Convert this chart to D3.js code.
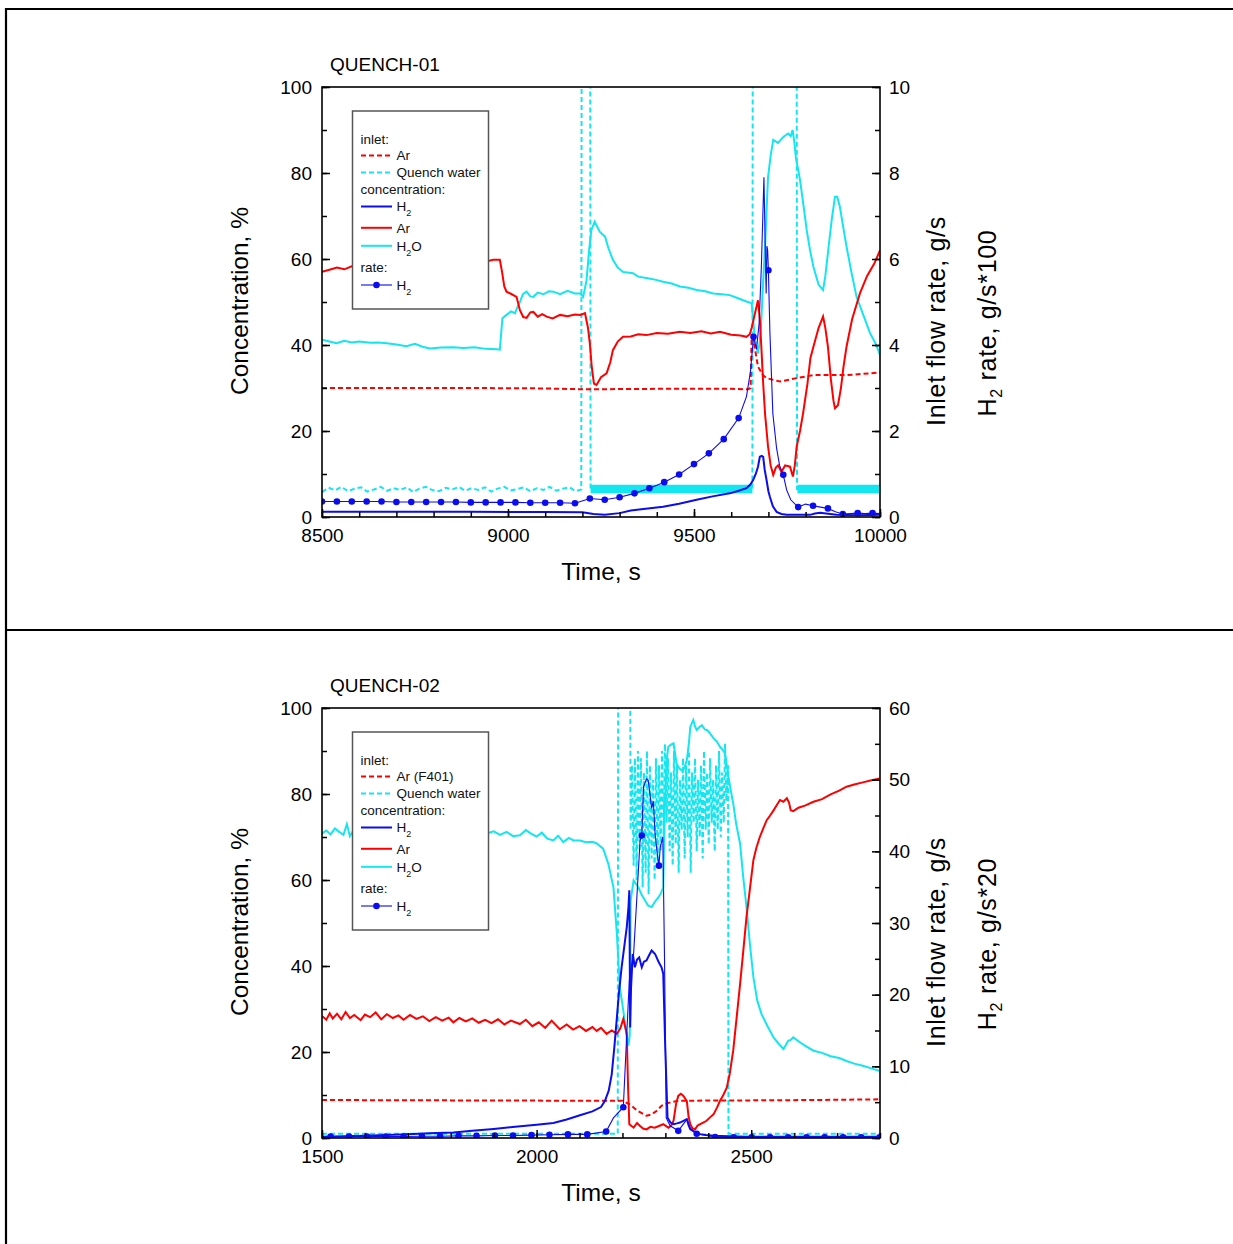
<!DOCTYPE html>
<html>
<head>
<meta charset="utf-8">
<script src="https://cdn.jsdelivr.net/npm/d3@7"></script>
<style>
body { margin: 0; background: #fff; }
svg { display: block; font-family: "Liberation Sans", Arial, sans-serif; }
</style>
</head>
<body>
<svg id="chart" width="1233" height="1244"></svg>
<script>
'use strict';

// ---------- DATA ----------
// shared
var concTicks = [0, 20, 40, 60, 80, 100];
var legendLabels = ['inlet:', 'Ar', 'Quench water', 'concentration:', 'H2', 'Ar', 'H2O', 'rate:', 'H2'];

// QUENCH-01  (time s, value)
var q1XTicks = [8500, 9000, 9500, 10000];
var q1RightTicks = [0, 2, 4, 6, 8, 10];

var q1ArConc = [[8500,57],[8520,57.5],[8540,58],[8560,57.6],[8580,58.3],[8600,58.5],[8650,58.7],[8700,59],[8750,58.8],[8800,59.2],[8850,59.3],[8900,59.6],[8942,59.4],[8960,59.8],[8978,59.8],[8984,57],[8990,53.6],[8996,52.4],[9010,51.8],[9023,51.2],[9032,48.1],[9041,46.5],[9050,46.3],[9060,47.6],[9068,47.7],[9080,46.6],[9092,47.2],[9104,46.6],[9120,46.2],[9140,47],[9160,46.7],[9180,47.1],[9195,47],[9207,47.4],[9215,44],[9220,40.4],[9225,35],[9231,31],[9238,30.7],[9250,32.5],[9265,33.4],[9275,36],[9282,38.8],[9295,40.8],[9309,41.9],[9330,42],[9350,42.5],[9372,42.3],[9400,42.8],[9430,42.6],[9462,43.1],[9490,42.8],[9520,43.2],[9545,42.7],[9570,43.1],[9600,42.4],[9625,42.2],[9641,41.9],[9650,42.5],[9655,44],[9663,47],[9672,50.4],[9677,46],[9681,39.6],[9686,31],[9691,24],[9699,16.4],[9706,12],[9713,9.8],[9720,11.5],[9726,12],[9735,10.5],[9745,12],[9758,11.7],[9766,9.4],[9771,12],[9776,16.4],[9785,20],[9793,24],[9805,31],[9813,37],[9821,39.6],[9835,44],[9847,46.6],[9853,44],[9860,39.6],[9868,32],[9875,27],[9879,25.3],[9887,26],[9895,30],[9902,35],[9910,39.6],[9925,46],[9946,52],[9965,56],[9985,59],[10000,62]];

var q1H2oConc = [[8500,41.2],[8520,40.8],[8539,40.4],[8560,41],[8580,40.6],[8600,40.8],[8630,40.5],[8650,40.6],[8674,40.4],[8700,40.1],[8727,39.7],[8750,40.3],[8770,39.6],[8790,39.2],[8820,39.4],[8853,39.5],[8880,39.3],[8910,39.5],[8940,39.1],[8970,39],[8978,38.9],[8985,46.2],[8996,47],[9008,47.8],[9019,47.4],[9026,49],[9032,50],[9040,51.8],[9050,52.4],[9060,51.3],[9068,51.2],[9080,52.2],[9095,51.8],[9110,52.5],[9122,52.4],[9140,51.8],[9160,52.6],[9180,52],[9194,52],[9202,51.2],[9211,55],[9218,62],[9224,66.7],[9233,68.7],[9240,67.5],[9247,66.3],[9261,65.2],[9270,62.5],[9282,59.8],[9295,58],[9309,57],[9336,56.7],[9350,55.9],[9372,55.6],[9395,55.2],[9417,54.7],[9440,54.3],[9462,53.6],[9485,53.3],[9507,52.8],[9530,52.5],[9552,52],[9575,51.8],[9596,51.6],[9615,51],[9632,50.4],[9645,50],[9655,49.7],[9660,45],[9664,41.2],[9672,38],[9677,41],[9681,45.8],[9686,55],[9691,62.9],[9695,71],[9699,79],[9706,84],[9713,87.7],[9726,87],[9740,88.4],[9753,89.2],[9760,88.6],[9765,90],[9770,87],[9774,83.5],[9785,78.4],[9795,72],[9803,66.7],[9812,62],[9821,58.2],[9835,54],[9847,52.8],[9853,56],[9860,61.4],[9870,69],[9879,74.5],[9885,74.5],[9892,72.2],[9900,68],[9910,62.9],[9923,57],[9937,51.2],[9955,47],[9973,42.8],[9990,40],[10000,37.7]];

var q1H2Conc = [[8500,1.2],[8700,1.2],[8900,1.2],[9100,1.15],[9200,1.1],[9230,0.7],[9260,0.5],[9300,0.9],[9330,1.5],[9370,1.9],[9417,2.4],[9460,3.1],[9507,4],[9550,4.8],[9596,5.5],[9620,6.1],[9641,6.7],[9652,7.6],[9659,8.6],[9666,10],[9672,11.7],[9677,14],[9682,14.2],[9686,14],[9690,11],[9695,8.6],[9700,6],[9704,4.7],[9712,2.5],[9722,1.2],[9735,0.7],[9749,0.5],[9780,0.5],[9812,0.5],[9825,0.8],[9839,1],[9855,0.8],[9883,0.5],[9940,0.4],[10000,0.5]];

// third field 1 = plotted symbol
var q1H2Rate = [[8500,0.36,1],[8540,0.36,1],[8580,0.36,1],[8620,0.36,1],[8660,0.36,1],[8700,0.35,1],[8740,0.35,1],[8780,0.35,1],[8820,0.35,1],[8860,0.35,1],[8900,0.34,1],[8940,0.34,1],[8980,0.34,1],[9020,0.34,1],[9060,0.33,1],[9100,0.33,1],[9140,0.33,1],[9180,0.32,1],[9220,0.43,1],[9260,0.40,1],[9300,0.46,1],[9340,0.55,1],[9380,0.67,1],[9420,0.81,1],[9460,0.99,1],[9500,1.23,1],[9540,1.48,1],[9580,1.81,1],[9620,2.30,1],[9641,2.8],[9652,3.4],[9660,4.19,1],[9668,3.9],[9675,4.5],[9681,5.8],[9685,7.0],[9688,7.9],[9691,6.5],[9694,5.2],[9696,6.3],[9698,6.2],[9700,5.74,1],[9704,4.3],[9712,2.4],[9722,1.6],[9730,1.2],[9740,0.98,1],[9749,0.63],[9760,0.4],[9780,0.23,1],[9800,0.3],[9820,0.26,1],[9840,0.23],[9860,0.20,1],[9880,0.12],[9900,0.07,1],[9920,0.08],[9940,0.09,1],[9960,0.08],[9980,0.09,1],[10000,0.08]];

var q1ArInlet = [[8500,3.0],[8700,3.0],[8900,3.0],[9100,2.99],[9200,2.97],[9400,2.98],[9600,2.98],[9645,2.97],[9652,3.0],[9655,4.2],[9662,4.0],[9672,3.5],[9685,3.3],[9695,3.23],[9731,3.15],[9776,3.23],[9821,3.3],[9910,3.3],[10000,3.36]];

var q1Quench = [[8500,0.58],[8518,0.68],[8535,0.62],[8552,0.70],[8570,0.60],[8588,0.66],[8605,0.69],[8622,0.59],[8640,0.64],[8658,0.70],[8675,0.61],[8692,0.67],[8710,0.63],[8728,0.69],[8745,0.58],[8762,0.66],[8780,0.70],[8798,0.62],[8815,0.60],[8832,0.68],[8850,0.64],[8868,0.70],[8885,0.61],[8902,0.67],[8920,0.63],[8938,0.69],[8955,0.59],[8972,0.66],[8990,0.70],[9008,0.62],[9025,0.65],[9042,0.69],[9060,0.60],[9078,0.67],[9095,0.63],[9112,0.70],[9130,0.61],[9148,0.66],[9165,0.69],[9182,0.60],[9197,0.64],[9198,12],[9221,12],[9222,0.65],[9657,0.65],[9658,12],[9776,12],[9777,0.65],[10000,0.65]];
// noisy stretches: [from, to, low, high]
var q1QuenchBand = [[9222,9657,0.55,0.75],[9778,10000,0.55,0.75]];

// QUENCH-02
var q2XTicks = [1500, 2000, 2500];
var q2RightTicks = [0, 10, 20, 30, 40, 50, 60];

var q2H2oConc = [[1500,70.8],[1510,71.5],[1520,70.6],[1530,72],[1540,71.2],[1550,70.5],[1558,73],[1565,70.2],[1575,71.8],[1590,71],[1600,71.5],[1612,70.4],[1625,71.8],[1640,70.9],[1655,71.6],[1670,70.8],[1685,72.2],[1700,71],[1715,71.4],[1730,70.5],[1745,71.7],[1760,70.8],[1775,71.3],[1790,70.6],[1805,71.5],[1820,70.7],[1835,71.2],[1850,70.3],[1865,71.4],[1884,70.8],[1900,71.3],[1915,70.5],[1930,71.2],[1945,70.2],[1961,70.4],[1975,71.6],[1987,70.8],[2000,70.1],[2012,71],[2025,69.6],[2039,69.2],[2050,70.3],[2062,68.8],[2075,69.8],[2086,69.2],[2101,69.2],[2115,68.8],[2130,68.9],[2140,68.5],[2155,67.3],[2167,63.8],[2179,58.3],[2187,47.5],[2194,35],[2202,29.6],[2208,25],[2214,21.5],[2217,24],[2219,55.2],[2226,59.9],[2237,58.3],[2245,56.5],[2253,55.2],[2260,54],[2268,53.7],[2276,55],[2284,56],[2290,57],[2295,58.3],[2299,78.5],[2303,88],[2307,91],[2313,91.5],[2319,91.8],[2326,87.1],[2332,86],[2338,85.5],[2344,86],[2350,87.9],[2355,92],[2358,95.6],[2365,97.2],[2369,95.8],[2373,94.9],[2379,95.5],[2385,96],[2392,95],[2398,94.8],[2404,94.1],[2412,93],[2420,92.2],[2427,91],[2434,90.2],[2439,89.4],[2447,84],[2452,81],[2458,77.8],[2465,73],[2474,68.5],[2481,61],[2489,53.7],[2497,45],[2505,37.4],[2514,32],[2524,28.8],[2538,26],[2552,23.4],[2563,22],[2575,20.7],[2580,21.5],[2586,22.6],[2592,22.8],[2598,23.4],[2610,22.5],[2625,21.5],[2645,20.3],[2665,19.8],[2685,19],[2705,18.6],[2722,17.9],[2740,17.3],[2760,16.8],[2780,16.2],[2800,15.6]];

var q2ArConc = [[1500,28.4],[1510,27.5],[1518,29],[1525,27.8],[1535,28.9],[1545,27.6],[1555,29.3],[1565,27.9],[1575,28.6],[1590,27.4],[1600,28.7],[1612,28.1],[1625,29.2],[1638,27.6],[1651,28.8],[1665,27.9],[1678,28.5],[1690,27.5],[1705,28.6],[1720,27.7],[1735,28.3],[1750,27.2],[1765,28.1],[1780,27.3],[1795,28],[1806,26.9],[1820,27.9],[1835,27.1],[1850,27.8],[1865,26.8],[1880,27.5],[1895,26.7],[1910,27.6],[1925,26.4],[1940,27.3],[1961,26.5],[1975,27.5],[1990,26],[2005,26.9],[2020,25.6],[2035,27.3],[2054,25.3],[2070,26.4],[2085,25.2],[2100,26],[2115,24.9],[2130,25.8],[2140,24.9],[2150,25.6],[2163,24.2],[2175,25],[2187,24.2],[2195,25.5],[2202,27.7],[2206,26],[2210,24.2],[2213,12],[2216,3.2],[2226,2.4],[2234,3.5],[2241,2.8],[2248,2.2],[2256,2],[2265,2.6],[2275,2.4],[2285,2.8],[2295,3.2],[2307,2.4],[2313,2.8],[2319,4],[2325,8],[2330,9.8],[2336,10.3],[2342,9.8],[2350,8.6],[2354,5],[2358,3.2],[2363,2.3],[2369,2],[2375,2.9],[2381,3.2],[2388,3.6],[2396,4],[2404,4.8],[2412,5.5],[2420,7],[2427,8.6],[2435,10],[2443,11.7],[2450,15],[2458,20.3],[2466,28],[2474,35.8],[2481,43],[2489,51.4],[2497,58],[2505,64.6],[2512,67.5],[2520,70],[2528,72],[2536,73.9],[2544,75],[2552,76.2],[2560,77.5],[2567,78.6],[2575,78.2],[2583,79],[2588,78],[2592,76.2],[2598,76],[2610,76.8],[2625,77.3],[2645,78.2],[2665,78.8],[2685,79.9],[2705,80.8],[2722,81.7],[2740,82.2],[2760,82.7],[2780,83.2],[2800,83.6]];

var q2H2Conc = [[1500,0.3],[1550,0.4],[1600,0.5],[1650,0.7],[1700,0.9],[1750,1.1],[1806,1.3],[1850,1.7],[1900,2.1],[1950,2.6],[2000,3.1],[2039,3.5],[2070,4.3],[2101,5.3],[2130,6.2],[2150,7.2],[2159,8.6],[2168,11],[2175,14.8],[2181,21],[2187,28],[2192,34],[2198,39.7],[2206,45.9],[2210,49],[2214,53.7],[2216,57.6],[2218,25.7],[2220,35],[2224,42.8],[2229,39.7],[2234,41.5],[2239,42],[2245,39.7],[2250,41],[2256,41.3],[2262,42.5],[2268,43.6],[2276,42.8],[2284,41],[2291,39.7],[2295,38.2],[2300,20],[2305,4.7],[2312,3.6],[2319,3.2],[2327,3.4],[2334,3.6],[2342,4],[2350,4.4],[2354,3],[2358,2],[2365,1.6],[2373,1.2],[2381,0.9],[2395,0.7],[2412,0.5],[2450,0.4],[2489,0.3],[2600,0.3],[2700,0.3],[2800,0.3]];

var q2H2Rate = [[1520,0.2,1],[1563,0.2,1],[1605,0.2,1],[1648,0.2,1],[1690,0.2,1],[1733,0.25,1],[1775,0.25,1],[1818,0.3,1],[1860,0.3,1],[1903,0.35,1],[1945,0.35,1],[1988,0.4,1],[2030,0.45,1],[2073,0.5,1],[2118,0.5,1],[2162,0.9,1],[2179,2.8],[2202,4.3,1],[2210,14.5],[2216,22],[2221,24],[2226,25.7],[2233,33],[2241,41.5],[2245,42.2,1],[2249,49],[2256,50.1],[2260,49.9],[2264,48],[2268,46],[2272,47],[2276,42.5],[2281,39.7],[2285,38,1],[2288,40.6],[2294,42],[2298,25],[2302,2.8],[2311,1.7],[2330,1.0,1],[2340,1.8],[2350,2.6],[2358,1.4],[2373,0.6,1],[2416,0.15,1],[2459,0.1,1],[2501,0.1,1],[2544,0.1,1],[2586,0.1,1],[2629,0.1,1],[2671,0.1,1],[2714,0.1,1],[2756,0.1,1],[2799,0.1,1]];

var q2ArInlet = [[1500,5.3],[1800,5.25],[2100,5.2],[2200,5.2],[2217,4.7],[2235,3.8],[2256,3.1],[2268,3.3],[2280,3.8],[2291,4.5],[2307,4.9],[2330,5.2],[2500,5.25],[2650,5.3],[2800,5.4]];

var q2Quench = [[1500,0.6],[2189,0.6],[2190,65],[2218,65],[2219,43],[2222,52],[2226,38],[2229,53],[2233,36],[2236,54],[2240,40],[2243,53],[2247,35],[2250,51],[2254,37],[2257,54],[2261,34],[2264,52],[2268,39],[2271,50],[2275,36],[2278,53],[2282,38],[2285,52],[2289,40],[2292,54],[2296,42],[2299,55],[2303,44],[2306,53],[2310,40],[2313,51],[2317,38],[2320,54],[2324,41],[2327,52],[2331,37],[2334,50],[2338,43],[2341,53],[2345,39],[2348,52],[2352,42],[2355,54],[2359,37],[2362,51],[2366,44],[2369,53],[2373,40],[2376,50],[2380,42],[2383,52],[2387,39],[2390,54],[2394,43],[2397,51],[2401,41],[2404,53],[2408,44],[2411,50],[2415,40],[2418,52],[2422,43],[2425,54],[2429,42],[2432,51],[2436,44],[2439,55],[2442,47],[2446,52],[2447,0.6],[2800,0.6]];
var q2QuenchBand = [];

// ---------- DRAWING ----------
var RED = '#ff0000', CYAN = '#14e6ef', BLUE = '#0c0cf0';
var FONT = '"Liberation Sans", Arial, sans-serif';

var svg = d3.select('#chart');
svg.append('rect').attr('width', 1233).attr('height', 1244).attr('fill', '#fff');

// page frame
var frame = svg.append('g').attr('stroke', '#000').attr('stroke-width', 2.2);
frame.append('line').attr('x1', 5).attr('x2', 1233).attr('y1', 9).attr('y2', 9);
frame.append('line').attr('x1', 6).attr('x2', 6).attr('y1', 8).attr('y2', 1244);
frame.append('line').attr('x1', 5).attr('x2', 1233).attr('y1', 630).attr('y2', 630);

function addSubText(sel, parts, subSize, subDy) {
    // parts: array of [text, isSub]
    parts.forEach(function(p, i) {
        var prevSub = i > 0 && parts[i - 1][1];
        var t = sel.append('tspan').text(p[0]);
        if (p[1]) {
            t.attr('font-size', subSize).attr('dy', subDy);
        } else if (prevSub) {
            t.attr('dy', -subDy);
        }
    });
}

function splitLabel(label) {
    // "H2" / "H2O" -> subscript digit
    if (label === 'H2') return [['H', false], ['2', true]];
    if (label === 'H2O') return [['H', false], ['2', true], ['O', false]];
    return [[label, false]];
}

function drawPanel(p) {
    var top = p.offsetY;
    var left = 322, right = 880, yTop = top + 87, yBot = top + 517;

    var x = d3.scaleLinear().domain(p.xDomain).range([left, right]);
    var yL = d3.scaleLinear().domain([0, 100]).range([yBot, yTop]);
    var yR = d3.scaleLinear().domain(p.rDomain).range([yBot, yTop]);

    var g = svg.append('g').attr('class', 'panel-' + p.id);

    g.append('clipPath').attr('id', 'clip-' + p.id)
        .append('rect')
        .attr('x', left).attr('y', yTop)
        .attr('width', right - left).attr('height', yBot - yTop);

    var plot = g.append('g').attr('clip-path', 'url(#clip-' + p.id + ')');

    var lineL = d3.line().x(function(d) { return x(d[0]); }).y(function(d) { return yL(d[1]); });
    var lineR = d3.line().x(function(d) { return x(d[0]); }).y(function(d) { return yR(d[1]); });

    // QUENCH WATER (inlet, right axis)
    plot.selectAll('rect.band').data(p.quenchBand).enter()
        .append('rect')
        .attr('class', 'band')
        .attr('x', function(d) { return x(d[0]); })
        .attr('y', function(d) { return yR(d[3]); })
        .attr('width', function(d) { return x(d[1]) - x(d[0]); })
        .attr('height', function(d) { return yR(d[2]) - yR(d[3]); })
        .attr('fill', CYAN);

    plot.append('path').datum(p.quench)
        .attr('d', lineR)
        .attr('fill', 'none').attr('stroke', CYAN)
        .attr('stroke-width', 2).attr('stroke-dasharray', '5,3');

    // CONCENTRATIONS
    plot.append('path').datum(p.h2oConc)
        .attr('d', lineL).attr('fill', 'none')
        .attr('stroke', CYAN).attr('stroke-width', 2);

    // Ar INLET
    plot.append('path').datum(p.arInlet)
        .attr('d', lineR).attr('fill', 'none')
        .attr('stroke', RED).attr('stroke-width', 2)
        .attr('stroke-dasharray', '5,3');

    plot.append('path').datum(p.arConc)
        .attr('d', lineL).attr('fill', 'none')
        .attr('stroke', RED).attr('stroke-width', 2);

    plot.append('path').datum(p.h2Conc)
        .attr('d', lineL).attr('fill', 'none')
        .attr('stroke', BLUE).attr('stroke-width', 2);

    // H2 RATE
    plot.append('path').datum(p.h2Rate)
        .attr('d', lineR).attr('fill', 'none')
        .attr('stroke', BLUE).attr('stroke-width', 1.1);

    plot.append('g').selectAll('circle')
        .data(p.h2Rate.filter(function(d) { return d[2]; }))
        .enter().append('circle')
        .attr('cx', function(d) { return x(d[0]); })
        .attr('cy', function(d) { return yR(d[1]); })
        .attr('r', 3.3)
        .attr('fill', BLUE);

    // AXES
    function styleAxis(sel) {
        sel.select('.domain').remove();
        sel.attr('font-family', FONT).attr('font-size', 19);
        sel.selectAll('line').attr('stroke', '#000').attr('stroke-width', 1.5);
        sel.selectAll('text').attr('fill', '#000');
    }

    var xMinor = d3.range(p.xDomain[0], p.xDomain[1] + 1, 100);
    g.append('g').attr('transform', 'translate(0,' + yBot + ')')
        .call(d3.axisBottom(x).tickValues(xMinor).tickSize(-5).tickFormat(''))
        .call(styleAxis);
    g.append('g').attr('transform', 'translate(0,' + yBot + ')')
        .call(d3.axisBottom(x).tickValues(p.xTicks).tickSize(-8).tickPadding(12).tickFormat(d3.format('d')))
        .call(styleAxis);

    g.append('g').attr('transform', 'translate(' + left + ',0)')
        .call(d3.axisLeft(yL).tickValues(d3.range(0, 101, 10)).tickSize(-5).tickFormat(''))
        .call(styleAxis);
    g.append('g').attr('transform', 'translate(' + left + ',0)')
        .call(d3.axisLeft(yL).tickValues(concTicks).tickSize(-8).tickPadding(10).tickFormat(d3.format('d')))
        .call(styleAxis);

    var rStep = (p.rTicks[1] - p.rTicks[0]) / 2;
    g.append('g').attr('transform', 'translate(' + right + ',0)')
        .call(d3.axisRight(yR).tickValues(d3.range(p.rDomain[0], p.rDomain[1] + rStep / 2, rStep)).tickSize(-5).tickFormat(''))
        .call(styleAxis);
    g.append('g').attr('transform', 'translate(' + right + ',0)')
        .call(d3.axisRight(yR).tickValues(p.rTicks).tickSize(-8).tickPadding(9).tickFormat(d3.format('d')))
        .call(styleAxis);

    // plot box
    g.append('rect')
        .attr('x', left).attr('y', yTop)
        .attr('width', right - left).attr('height', yBot - yTop)
        .attr('fill', 'none').attr('stroke', '#000').attr('stroke-width', 1.6);

    // TITLES
    g.append('text').attr('x', 330).attr('y', top + 71)
        .attr('font-family', FONT).attr('font-size', 19)
        .text(p.title);

    g.append('text').attr('x', 601).attr('y', top + 580)
        .attr('text-anchor', 'middle')
        .attr('font-family', FONT).attr('font-size', 24.5)
        .text('Time, s');

    g.append('text')
        .attr('transform', 'translate(248,' + (top + 301) + ') rotate(-90)')
        .attr('text-anchor', 'middle')
        .attr('font-family', FONT).attr('font-size', 24.5)
        .text('Concentration, %');

    g.append('text')
        .attr('transform', 'translate(945,' + (top + 321) + ') rotate(-90)')
        .attr('text-anchor', 'middle')
        .attr('font-family', FONT).attr('font-size', 25)
        .attr('letter-spacing', 0.7)
        .text('Inlet flow rate, g/s');

    var rateTitle = g.append('text')
        .attr('transform', 'translate(996,' + (top + 323) + ') rotate(-90)')
        .attr('text-anchor', 'middle')
        .attr('font-family', FONT).attr('font-size', 25)
        .attr('letter-spacing', 0.7);
    addSubText(rateTitle, [['H', false], ['2', true], [' rate, g/s*' + p.rateFactor, false]], 16, 6);

    // LEGEND
    var lg = g.append('g').attr('class', 'legend');
    lg.append('rect')
        .attr('x', 352.5).attr('y', top + 111)
        .attr('width', 136).attr('height', 198)
        .attr('fill', '#fff').attr('stroke', '#555').attr('stroke-width', 1.5);

    // row centres and sample styles
    var rowY = [139.3, 155.5, 172.5, 189.5, 206.5, 227.8, 245.8, 267.5, 285];
    var samples = [
        null,
        { color: RED, dash: '5,3', w: 2 },
        { color: CYAN, dash: '5,3', w: 2 },
        null,
        { color: BLUE, w: 2 },
        { color: RED, w: 2 },
        { color: CYAN, w: 2 },
        null,
        { color: BLUE, w: 1.1, marker: true }
    ];
    var labels = legendLabels.slice();
    labels[1] = p.arLegend;

    labels.forEach(function(label, i) {
        var cy = top + rowY[i];
        var s = samples[i];
        var tx = s ? 396.5 : 360.5;
        if (s) {
            lg.append('line')
                .attr('x1', 361).attr('x2', 392)
                .attr('y1', cy).attr('y2', cy)
                .attr('stroke', s.color).attr('stroke-width', s.w)
                .attr('stroke-dasharray', s.dash || null);
            if (s.marker) {
                lg.append('circle').attr('cx', 376.5).attr('cy', cy).attr('r', 3.3).attr('fill', s.color);
            }
        }
        var t = lg.append('text')
            .attr('x', tx).attr('y', cy + 4.8)
            .attr('font-family', FONT).attr('font-size', 13.5)
            .attr('fill', '#111');
        addSubText(t, splitLabel(label), 9, 5);
    });
}

drawPanel({
    id: 'q1', offsetY: 0, title: 'QUENCH-01', rateFactor: '100', arLegend: 'Ar',
    xDomain: [8500, 10000], xTicks: q1XTicks,
    rDomain: [0, 10], rTicks: q1RightTicks,
    arConc: q1ArConc, h2oConc: q1H2oConc, h2Conc: q1H2Conc, h2Rate: q1H2Rate,
    arInlet: q1ArInlet, quench: q1Quench, quenchBand: q1QuenchBand
});

drawPanel({
    id: 'q2', offsetY: 621, title: 'QUENCH-02', rateFactor: '20', arLegend: 'Ar (F401)',
    xDomain: [1500, 2800], xTicks: q2XTicks,
    rDomain: [0, 60], rTicks: q2RightTicks,
    arConc: q2ArConc, h2oConc: q2H2oConc, h2Conc: q2H2Conc, h2Rate: q2H2Rate,
    arInlet: q2ArInlet, quench: q2Quench, quenchBand: q2QuenchBand
});
</script>
</body>
</html>
